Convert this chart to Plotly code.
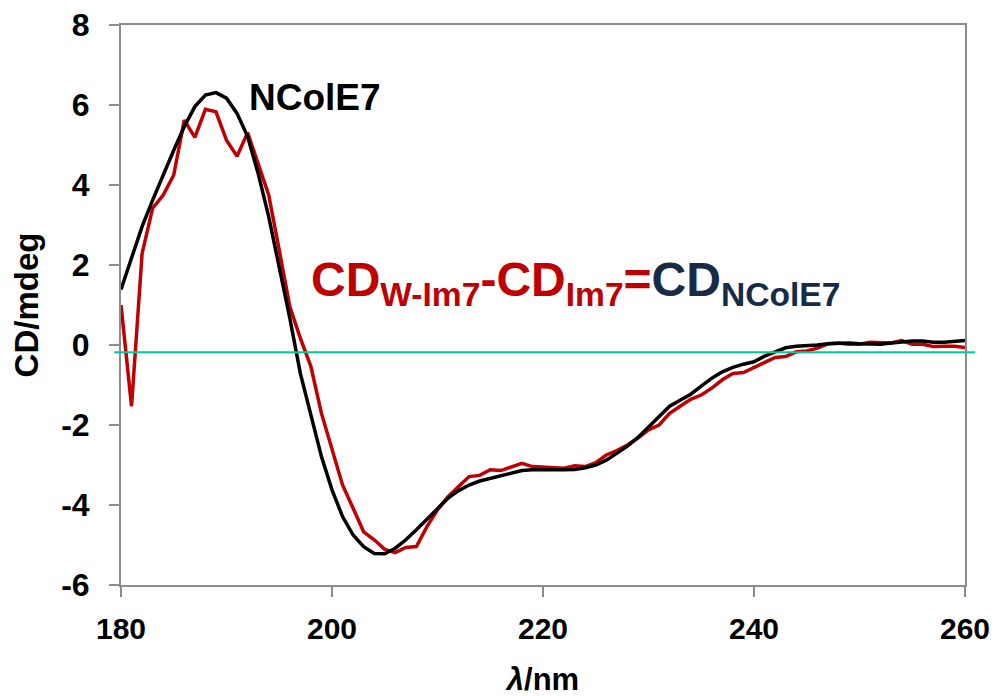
import plotly.graph_objects as go

# wavelength grid (nm)
wavelength = list(range(180, 261))

# CD_NColE7 (black), mdeg
cd_ncole7 = [
    1.39, 2.2, 2.96, 3.62, 4.27, 4.87, 5.46, 5.96, 6.25, 6.31,
    6.17, 5.79, 5.21, 4.29, 3.21, 1.96, 0.67, -0.71, -1.79, -2.79,
    -3.62, -4.29, -4.75, -5.04, -5.21, -5.22, -5.08, -4.87, -4.62, -4.36,
    -4.07, -3.83, -3.64, -3.5, -3.4, -3.33, -3.27, -3.19, -3.14, -3.12,
    -3.11, -3.12, -3.12, -3.11, -3.07, -3.0, -2.88, -2.71, -2.53, -2.31,
    -2.04, -1.78, -1.53, -1.38, -1.23, -1.03, -0.83, -0.67, -0.56, -0.48,
    -0.42, -0.28, -0.17, -0.07, -0.03, -0.02, 0.0, 0.03, 0.05, 0.05,
    0.03, 0.02, 0.02, 0.05, 0.08, 0.1, 0.1, 0.07, 0.07, 0.08,
    0.11,
]

# CD_W-Im7 - CD_Im7 (red), mdeg
cd_diff = [
    1.0, -1.53, 2.29, 3.42, 3.75, 4.25, 5.62, 5.19, 5.89, 5.83,
    5.12, 4.72, 5.31, 4.54, 3.75, 2.37, 0.96, 0.17, -0.54, -1.71,
    -2.62, -3.5, -4.08, -4.67, -4.87, -5.11, -5.19, -5.06, -5.04, -4.54,
    -4.12, -3.79, -3.54, -3.29, -3.26, -3.12, -3.14, -3.06, -2.96, -3.04,
    -3.06, -3.06, -3.08, -3.02, -3.04, -2.94, -2.75, -2.64, -2.5, -2.33,
    -2.12, -2.0, -1.71, -1.53, -1.36, -1.25, -1.08, -0.87, -0.71, -0.69,
    -0.56, -0.42, -0.31, -0.29, -0.17, -0.15, -0.08, 0.03, 0.05, 0.02,
    0.02, 0.07, 0.05, 0.05, 0.11, 0.02, 0.02, -0.04, -0.03, -0.03,
    -0.06,
]

baseline = -0.18  # cyan reference line

x_ticks = [180, 200, 220, 240, 260]
y_ticks = [-6, -4, -2, 0, 2, 4, 6, 8]
y_ticktext = [str(v) for v in y_ticks]  # plain hyphen minus, as in the original

FONT = "Arial, Liberation Sans, sans-serif"
RED = "#C00000"
NAVY = "#152B48"
GREY = "#8C8C8C"

fig = go.Figure()

fig.add_trace(go.Scatter(x=wavelength, y=cd_diff, mode="lines",
                         line=dict(color=RED, width=3.5), showlegend=False))
fig.add_trace(go.Scatter(x=wavelength, y=cd_ncole7, mode="lines",
                         line=dict(color="black", width=3.5), showlegend=False))

# thin cyan baseline, slightly wider than the plot box
fig.add_shape(type="line", xref="paper", yref="y", x0=-0.008, x1=1.012,
              y0=baseline, y1=baseline, line=dict(color="#00CC99", width=2))

fig.add_annotation(x=191.9, y=6.2, xref="x", yref="y", text="<b>NColE7</b>",
                   showarrow=False, xanchor="left", yanchor="middle",
                   font=dict(family=FONT, size=37, color="black"))

formula = (f"<b><span style='color:{RED}'>CD<sub>W-Im7</sub>-CD<sub>Im7</sub>=</span>"
           f"<span style='color:{NAVY}'>CD<sub>NColE7</sub></span></b>")
fig.add_annotation(x=197.8, y=1.55, xref="x", yref="y", text=formula,
                   showarrow=False, xanchor="left", yanchor="middle",
                   font=dict(family=FONT, size=48, color=RED))

fig.update_xaxes(range=[180, 260], tickvals=x_ticks, automargin=False,
                 ticks="outside", ticklen=10, tickwidth=1.5, tickcolor=GREY,
                 ticklabelstandoff=6, ticklabeloverflow="allow",
                 showline=True, linecolor=GREY, linewidth=2, mirror=True,
                 showgrid=False, zeroline=False,
                 tickfont=dict(family=FONT, size=30, color="black", weight="bold"),
                 title=dict(text="<b><i>λ</i>/nm</b>", standoff=24,
                            font=dict(family=FONT, size=31, color="black")))
fig.update_yaxes(range=[-6, 8], tickvals=y_ticks, ticktext=y_ticktext,
                 automargin=False,
                 ticks="outside", ticklen=10, tickwidth=1.5, tickcolor=GREY,
                 ticklabelstandoff=13, ticklabeloverflow="allow",
                 showline=True, linecolor=GREY, linewidth=2, mirror=True,
                 showgrid=False, zeroline=False,
                 tickfont=dict(family=FONT, size=32, color="black", weight="bold"),
                 title=dict(text="<b>CD/mdeg</b>", standoff=20,
                            font=dict(family=FONT, size=33, color="black")))

# the page body adds an 8px offset, so margins are trimmed by 8px on the top/left
fig.update_layout(width=1001, height=696,
                  margin=dict(l=113, r=44, t=17, b=119),
                  paper_bgcolor="white", plot_bgcolor="white")

fig.write_html("out.html")
